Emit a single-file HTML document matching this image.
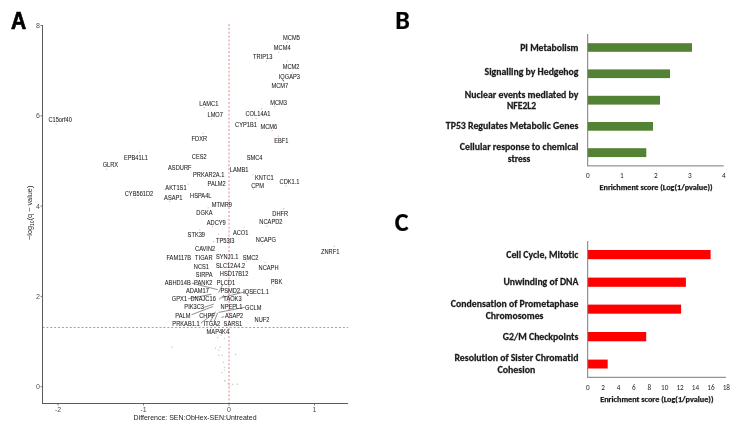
<!DOCTYPE html>
<html><head><meta charset="utf-8"><title>Figure</title>
<style>
html,body{margin:0;padding:0;background:#fff;}
body{width:742px;height:429px;overflow:hidden;}
svg{display:block;filter:blur(0.3px);}
.l{font-family:"Liberation Sans",Arial,sans-serif;font-size:5.7px;fill:#1a1a1a;stroke:#1a1a1a;stroke-width:0.05px;}
.tk{font-family:"Liberation Sans",Arial,sans-serif;font-size:7px;fill:#4d4d4d;}
.cb{font-family:Carlito,"Liberation Sans",sans-serif;font-weight:bold;font-variant-ligatures:none;font-feature-settings:"liga" 0;fill:#1a1a1a;stroke:#1a1a1a;stroke-width:0.25px;}
.cr{font-family:Carlito,"Liberation Sans",sans-serif;fill:#262626;}
</style></head><body>
<svg width="742" height="429" viewBox="0 0 742 429">
<rect width="742" height="429" fill="#fff"/>
<text x="11.0" y="28.5" style="font-family:'Liberation Sans',Arial,sans-serif;font-weight:bold;font-size:23.2px;stroke:#000;stroke-width:0.7px" textLength="15.2" lengthAdjust="spacingAndGlyphs">A</text>
<text x="395.3" y="28.6" class="cb" style="font-size:26px;fill:#000;stroke:#000;stroke-width:0.2px" textLength="14.58" lengthAdjust="spacingAndGlyphs">B</text>
<text x="394.8" y="231.4" class="cb" style="font-size:26px;fill:#000;stroke:#000;stroke-width:0.2px" textLength="13.77" lengthAdjust="spacingAndGlyphs">C</text>
<g id="panelA">
<circle cx="172.1" cy="347" r="0.7" fill="#c8c8c8"/><circle cx="217.8" cy="337.7" r="0.7" fill="#c8c8c8"/><circle cx="221.2" cy="335.3" r="0.7" fill="#c8c8c8"/><circle cx="224.4" cy="338.4" r="0.7" fill="#c8c8c8"/><circle cx="215.4" cy="348.3" r="0.7" fill="#c8c8c8"/><circle cx="220.1" cy="347" r="0.7" fill="#c8c8c8"/><circle cx="218.8" cy="350.2" r="0.7" fill="#c8c8c8"/><circle cx="218.8" cy="355.2" r="0.7" fill="#c8c8c8"/><circle cx="222.1" cy="355.2" r="0.7" fill="#c8c8c8"/><circle cx="235.6" cy="354.5" r="0.7" fill="#c8c8c8"/><circle cx="223.4" cy="362.3" r="0.7" fill="#c8c8c8"/><circle cx="224.4" cy="367.5" r="0.7" fill="#c8c8c8"/><circle cx="224.4" cy="370.1" r="0.7" fill="#c8c8c8"/><circle cx="221.9" cy="372.6" r="0.7" fill="#c8c8c8"/><circle cx="224.4" cy="380.6" r="0.7" fill="#c8c8c8"/><circle cx="225.3" cy="381" r="0.7" fill="#c8c8c8"/><circle cx="230" cy="385.6" r="0.7" fill="#c8c8c8"/><circle cx="232.8" cy="384.3" r="0.7" fill="#c8c8c8"/><circle cx="237.4" cy="384.3" r="0.7" fill="#c8c8c8"/><circle cx="228.1" cy="383.8" r="0.7" fill="#c8c8c8"/>
<circle cx="287.4" cy="42.2" r="0.7" fill="#f2b8b8"/><circle cx="278.6" cy="52.1" r="0.7" fill="#f2b8b8"/><circle cx="266.5" cy="61" r="0.7" fill="#f2b8b8"/><circle cx="287.4" cy="61.1" r="0.7" fill="#f2b8b8"/><circle cx="292.5" cy="72.9" r="0.7" fill="#f2b8b8"/><circle cx="283.8" cy="81.2" r="0.7" fill="#f2b8b8"/><circle cx="274.9" cy="106.3" r="0.7" fill="#f2b8b8"/><circle cx="261.5" cy="108.8" r="0.7" fill="#f2b8b8"/><circle cx="256.1" cy="118.5" r="0.7" fill="#f2b8b8"/><circle cx="272.1" cy="130.5" r="0.7" fill="#f2b8b8"/><circle cx="278.3" cy="136.2" r="0.7" fill="#f2b8b8"/><circle cx="204.4" cy="107.5" r="0.7" fill="#f2b8b8"/><circle cx="211.5" cy="119" r="0.7" fill="#f2b8b8"/><circle cx="202.9" cy="133.2" r="0.7" fill="#f2b8b8"/><circle cx="139.4" cy="152.3" r="0.7" fill="#f2b8b8"/><circle cx="106.7" cy="169.5" r="0.7" fill="#f2b8b8"/><circle cx="188.5" cy="184.2" r="0.7" fill="#f2b8b8"/><circle cx="135.1" cy="198" r="0.7" fill="#f2b8b8"/><circle cx="169.7" cy="201.3" r="0.7" fill="#f2b8b8"/><circle cx="56.2" cy="124.2" r="0.7" fill="#f2b8b8"/><circle cx="212.5" cy="226.5" r="0.7" fill="#f2b8b8"/><circle cx="199.8" cy="229.7" r="0.7" fill="#f2b8b8"/><circle cx="218.5" cy="234.2" r="0.7" fill="#f2b8b8"/><circle cx="244.1" cy="227.6" r="0.7" fill="#f2b8b8"/><circle cx="213.6" cy="241.5" r="0.7" fill="#f2b8b8"/><circle cx="208.2" cy="207.7" r="0.7" fill="#f2b8b8"/><circle cx="285.7" cy="185.8" r="0.7" fill="#f2b8b8"/><circle cx="283.7" cy="208.7" r="0.7" fill="#f2b8b8"/><circle cx="266.9" cy="226.3" r="0.7" fill="#f2b8b8"/><circle cx="253" cy="174.9" r="0.7" fill="#f2b8b8"/><circle cx="253.4" cy="189.2" r="0.7" fill="#f2b8b8"/><circle cx="262.5" cy="243.9" r="0.7" fill="#f2b8b8"/><circle cx="334.3" cy="246.3" r="0.7" fill="#f2b8b8"/><circle cx="265" cy="262.6" r="0.7" fill="#f2b8b8"/><circle cx="273.4" cy="285.5" r="0.7" fill="#f2b8b8"/><circle cx="246.5" cy="261.8" r="0.7" fill="#f2b8b8"/>
<line x1="229" y1="23.9" x2="229" y2="403.5" stroke="#e08888" stroke-width="1" stroke-dasharray="2 1.9"/>
<line x1="42.5" y1="327.5" x2="348.1" y2="327.5" stroke="#e08888" stroke-width="1" stroke-dasharray="2 1.9"/>
<line x1="191.9" y1="283.2" x2="217.8" y2="289.7" stroke="#333" stroke-width="0.55"/><line x1="222.6" y1="284.9" x2="218.5" y2="292.7" stroke="#333" stroke-width="0.55"/><line x1="188.0" y1="298.8" x2="211.7" y2="294.2" stroke="#333" stroke-width="0.55"/><line x1="204.1" y1="307.3" x2="213.9" y2="304" stroke="#333" stroke-width="0.55"/><line x1="191.5" y1="314.7" x2="213" y2="306.5" stroke="#333" stroke-width="0.55"/><line x1="200.9" y1="323.1" x2="215.8" y2="311.9" stroke="#333" stroke-width="0.55"/><line x1="210.2" y1="321.7" x2="214.9" y2="313.3" stroke="#333" stroke-width="0.55"/><line x1="213.9" y1="322.2" x2="217.6" y2="312.9" stroke="#333" stroke-width="0.55"/><line x1="218.6" y1="312.4" x2="244.7" y2="307.3" stroke="#333" stroke-width="0.55"/><line x1="221.4" y1="317.5" x2="224.2" y2="316.6" stroke="#333" stroke-width="0.55"/><line x1="219" y1="299.3" x2="224.2" y2="295.1" stroke="#333" stroke-width="0.55"/><line x1="222.3" y1="297.5" x2="244.7" y2="291.9" stroke="#333" stroke-width="0.55"/>
<text class="l" transform="translate(283.05,40.0) scale(1,1.13)">MCM5</text>
<text class="l" transform="translate(273.85,50.4) scale(1,1.13)">MCM4</text>
<text class="l" transform="translate(253.11,59.1) scale(1,1.13)">TRIP13</text>
<text class="l" transform="translate(282.75,68.6) scale(1,1.13)">MCM2</text>
<text class="l" transform="translate(278.72,79.2) scale(1,1.13)">IQGAP3</text>
<text class="l" transform="translate(271.50,88.0) scale(1,1.13)">MCM7</text>
<text class="l" transform="translate(270.20,104.6) scale(1,1.13)">MCM3</text>
<text class="l" transform="translate(199.30,105.9) scale(1,1.13)">LAMC1</text>
<text class="l" transform="translate(207.46,117.3) scale(1,1.13)">LMO7</text>
<text class="l" transform="translate(245.51,116.2) scale(1,1.13)">COL14A1</text>
<text class="l" transform="translate(235.08,126.6) scale(1,1.13)">CYP1B1</text>
<text class="l" transform="translate(260.50,128.6) scale(1,1.13)">MCM6</text>
<text class="l" transform="translate(48.42,122.1) scale(1,1.13)">C15orf40</text>
<text class="l" transform="translate(191.56,141.0) scale(1,1.13)">FDXR</text>
<text class="l" transform="translate(274.13,143.0) scale(1,1.13)">EBF1</text>
<text class="l" transform="translate(191.79,159.0) scale(1,1.13)">CES2</text>
<text class="l" transform="translate(246.67,159.9) scale(1,1.13)">SMC4</text>
<text class="l" transform="translate(123.94,160.1) scale(1,1.13)">EPB41L1</text>
<text class="l" transform="translate(102.66,167.4) scale(1,1.13)">GLRX</text>
<text class="l" transform="translate(168.06,169.6) scale(1,1.13)">ASDURF</text>
<text class="l" transform="translate(229.75,172.3) scale(1,1.13)">LAMB1</text>
<text class="l" transform="translate(193.03,177.4) scale(1,1.13)">PRKAR2A.1</text>
<text class="l" transform="translate(255.00,179.8) scale(1,1.13)">KNTC1</text>
<text class="l" transform="translate(279.57,184.3) scale(1,1.13)">CDK1.1</text>
<text class="l" transform="translate(207.53,186.2) scale(1,1.13)">PALM2</text>
<text class="l" transform="translate(251.23,187.5) scale(1,1.13)">CPM</text>
<text class="l" transform="translate(165.35,190.1) scale(1,1.13)">AKT1S1</text>
<text class="l" transform="translate(124.75,196.2) scale(1,1.13)">CYB561D2</text>
<text class="l" transform="translate(190.07,198.1) scale(1,1.13)">HSPA4L</text>
<text class="l" transform="translate(164.12,199.7) scale(1,1.13)">ASAP1</text>
<text class="l" transform="translate(211.74,207.2) scale(1,1.13)">MTMR9</text>
<text class="l" transform="translate(196.34,214.9) scale(1,1.13)">DGKA</text>
<text class="l" transform="translate(272.37,216.3) scale(1,1.13)">DHFR</text>
<text class="l" transform="translate(259.36,224.4) scale(1,1.13)">NCAPD2</text>
<text class="l" transform="translate(206.79,225.3) scale(1,1.13)">ADCY9</text>
<text class="l" transform="translate(232.95,235.4) scale(1,1.13)">ACO1</text>
<text class="l" transform="translate(187.61,237.2) scale(1,1.13)">STK39</text>
<text class="l" transform="translate(215.93,242.7) scale(1,1.13)">TP53I3</text>
<text class="l" transform="translate(255.78,242.0) scale(1,1.13)">NCAPG</text>
<text class="l" transform="translate(195.03,251.1) scale(1,1.13)">CAVIN2</text>
<text class="l" transform="translate(321.03,254.2) scale(1,1.13)">ZNRF1</text>
<text class="l" transform="translate(166.45,259.5) scale(1,1.13)">FAM117B</text>
<text class="l" transform="translate(195.10,259.5) scale(1,1.13)">TIGAR</text>
<text class="l" transform="translate(215.94,259.1) scale(1,1.13)">SYNJ1.1</text>
<text class="l" transform="translate(242.67,259.9) scale(1,1.13)">SMC2</text>
<text class="l" transform="translate(193.81,268.5) scale(1,1.13)">NCS1</text>
<text class="l" transform="translate(216.02,267.6) scale(1,1.13)">SLC12A4.2</text>
<text class="l" transform="translate(258.57,269.7) scale(1,1.13)">NCAPH</text>
<text class="l" transform="translate(195.80,276.9) scale(1,1.13)">SIRPA</text>
<text class="l" transform="translate(219.85,275.6) scale(1,1.13)">HSD17B12</text>
<text class="l" transform="translate(164.78,285.1) scale(1,1.13)">ABHD14B</text>
<text class="l" transform="translate(194.09,285.4) scale(1,1.13)">PANK2</text>
<text class="l" transform="translate(216.74,284.6) scale(1,1.13)">PLCD1</text>
<text class="l" transform="translate(270.81,284.0) scale(1,1.13)">PBK</text>
<text class="l" transform="translate(186.04,293.2) scale(1,1.13)">ADAM17</text>
<text class="l" transform="translate(220.42,293.4) scale(1,1.13)">PSMD2</text>
<text class="l" transform="translate(243.23,293.6) scale(1,1.13)">IQSEC1.1</text>
<text class="l" transform="translate(171.85,301.4) scale(1,1.13)">GPX1</text>
<text class="l" transform="translate(190.47,301.4) scale(1,1.13)">DNAJC16</text>
<text class="l" transform="translate(223.33,301.2) scale(1,1.13)">TAOK3</text>
<text class="l" transform="translate(184.37,309.3) scale(1,1.13)">PIK3C3</text>
<text class="l" transform="translate(220.53,309.3) scale(1,1.13)">NPEPL1</text>
<text class="l" transform="translate(245.08,309.7) scale(1,1.13)">GCLM</text>
<text class="l" transform="translate(175.30,317.5) scale(1,1.13)">PALM</text>
<text class="l" transform="translate(199.22,317.5) scale(1,1.13)">CHPF</text>
<text class="l" transform="translate(224.92,318.2) scale(1,1.13)">ASAP2</text>
<text class="l" transform="translate(254.60,321.8) scale(1,1.13)">NUF2</text>
<text class="l" transform="translate(172.37,326.0) scale(1,1.13)">PRKAB1.1</text>
<text class="l" transform="translate(203.64,325.8) scale(1,1.13)">ITGA2</text>
<text class="l" transform="translate(223.59,326.0) scale(1,1.13)">SARS1</text>
<text class="l" transform="translate(206.60,334.2) scale(1,1.13)">MAP4K4</text>
<line x1="42.5" y1="25.0" x2="42.5" y2="404.0" stroke="#5a5a5a" stroke-width="1"/>
<line x1="42.5" y1="403.5" x2="348.1" y2="403.5" stroke="#5a5a5a" stroke-width="1"/>
<line x1="40.5" y1="386.7" x2="42.5" y2="386.7" stroke="#5a5a5a" stroke-width="0.8"/><text class="tk" x="40.0" y="389.2" text-anchor="end">0</text>
<line x1="40.5" y1="296.4" x2="42.5" y2="296.4" stroke="#5a5a5a" stroke-width="0.8"/><text class="tk" x="40.0" y="298.9" text-anchor="end">2</text>
<line x1="40.5" y1="206.1" x2="42.5" y2="206.1" stroke="#5a5a5a" stroke-width="0.8"/><text class="tk" x="40.0" y="208.6" text-anchor="end">4</text>
<line x1="40.5" y1="115.8" x2="42.5" y2="115.8" stroke="#5a5a5a" stroke-width="0.8"/><text class="tk" x="40.0" y="118.3" text-anchor="end">6</text>
<line x1="40.5" y1="25.5" x2="42.5" y2="25.5" stroke="#5a5a5a" stroke-width="0.8"/><text class="tk" x="40.0" y="28.0" text-anchor="end">8</text>
<line x1="58.0" y1="403.5" x2="58.0" y2="405.5" stroke="#5a5a5a" stroke-width="0.8"/><text class="tk" x="58.0" y="411.6" text-anchor="middle">-2</text>
<line x1="143.5" y1="403.5" x2="143.5" y2="405.5" stroke="#5a5a5a" stroke-width="0.8"/><text class="tk" x="143.5" y="411.6" text-anchor="middle">-1</text>
<line x1="229.0" y1="403.5" x2="229.0" y2="405.5" stroke="#5a5a5a" stroke-width="0.8"/><text class="tk" x="229.0" y="411.6" text-anchor="middle">0</text>
<line x1="314.5" y1="403.5" x2="314.5" y2="405.5" stroke="#5a5a5a" stroke-width="0.8"/><text class="tk" x="314.5" y="411.6" text-anchor="middle">1</text>
<text transform="translate(133.6,420) scale(1,1.1)" style="font-family:'Liberation Sans',Arial,sans-serif;font-size:7px;fill:#1a1a1a">Difference: SEN:ObHex-SEN:Untreated</text>
<text transform="translate(32.3,212.8) rotate(-90)" text-anchor="middle" style="font-family:'Liberation Sans',Arial,sans-serif;font-size:7.3px;fill:#1a1a1a">&#8722;log<tspan font-size="5px" dy="1.6">10</tspan><tspan dy="-1.6">(q &#8722; value)</tspan></text>
</g>
<g id="panelB">
<rect x="587.7" y="43.2" width="104.3" height="8.6" fill="#548235"/>
<rect x="587.7" y="69.4" width="82.3" height="8.7" fill="#548235"/>
<rect x="587.7" y="95.8" width="72.3" height="8.8" fill="#548235"/>
<rect x="587.7" y="122.0" width="65.3" height="8.7" fill="#548235"/>
<rect x="587.7" y="148.2" width="58.6" height="8.9" fill="#548235"/>
<line x1="587.7" y1="34.0" x2="587.7" y2="165.9" stroke="#7a7a7a" stroke-width="1"/>
<line x1="587.2" y1="165.9" x2="723.7" y2="165.9" stroke="#7a7a7a" stroke-width="1"/>
<text class="cr" transform="translate(587.7,177.6) scale(1,1.08)" text-anchor="middle" style="font-size:7.2px">0</text>
<text class="cr" transform="translate(621.7,177.6) scale(1,1.08)" text-anchor="middle" style="font-size:7.2px">1</text>
<text class="cr" transform="translate(655.7,177.6) scale(1,1.08)" text-anchor="middle" style="font-size:7.2px">2</text>
<text class="cr" transform="translate(689.7,177.6) scale(1,1.08)" text-anchor="middle" style="font-size:7.2px">3</text>
<text class="cr" transform="translate(723.7,177.6) scale(1,1.08)" text-anchor="middle" style="font-size:7.2px">4</text>
<text class="cb" x="599.5" y="190.0" style="font-size:8.2px" textLength="113.0" lengthAdjust="spacingAndGlyphs">Enrichment score (Log(1/pvalue))</text>
</g>
<g id="panelC">
<rect x="587.7" y="250.0" width="122.9" height="9.2" fill="#ff0000"/>
<rect x="587.7" y="277.6" width="98.2" height="9.2" fill="#ff0000"/>
<rect x="587.7" y="304.6" width="93.4" height="9.1" fill="#ff0000"/>
<rect x="587.7" y="332.0" width="58.5" height="9.3" fill="#ff0000"/>
<rect x="587.7" y="359.6" width="20.0" height="8.9" fill="#ff0000"/>
<line x1="587.7" y1="241.0" x2="587.7" y2="377.3" stroke="#7a7a7a" stroke-width="1"/>
<line x1="587.2" y1="377.3" x2="725.9" y2="377.3" stroke="#7a7a7a" stroke-width="1"/>
<text class="cr" transform="translate(587.7,389.5) scale(1,1.08)" text-anchor="middle" style="font-size:7.2px">0</text>
<text class="cr" transform="translate(603.1,389.5) scale(1,1.08)" text-anchor="middle" style="font-size:7.2px">2</text>
<text class="cr" transform="translate(618.5,389.5) scale(1,1.08)" text-anchor="middle" style="font-size:7.2px">4</text>
<text class="cr" transform="translate(633.9,389.5) scale(1,1.08)" text-anchor="middle" style="font-size:7.2px">6</text>
<text class="cr" transform="translate(649.3,389.5) scale(1,1.08)" text-anchor="middle" style="font-size:7.2px">8</text>
<text class="cr" transform="translate(664.7,389.5) scale(1,1.08)" text-anchor="middle" style="font-size:7.2px">10</text>
<text class="cr" transform="translate(680.1,389.5) scale(1,1.08)" text-anchor="middle" style="font-size:7.2px">12</text>
<text class="cr" transform="translate(695.5,389.5) scale(1,1.08)" text-anchor="middle" style="font-size:7.2px">14</text>
<text class="cr" transform="translate(710.9,389.5) scale(1,1.08)" text-anchor="middle" style="font-size:7.2px">16</text>
<text class="cr" transform="translate(726.3,389.5) scale(1,1.08)" text-anchor="middle" style="font-size:7.2px">18</text>
<text class="cb" x="600.2" y="402.4" style="font-size:8.2px" textLength="113.3" lengthAdjust="spacingAndGlyphs">Enrichment score (Log(1/pvalue))</text>
</g>
<text class="cb" transform="translate(549.3,50.5) scale(1,1.07)" text-anchor="middle" style="font-size:9.85px" textLength="58.2" lengthAdjust="spacingAndGlyphs">PI Metabolism</text>
<text class="cb" transform="translate(531.5,75.2) scale(1,1.07)" text-anchor="middle" style="font-size:9.85px" textLength="93.8" lengthAdjust="spacingAndGlyphs">Signalling by Hedgehog</text>
<text class="cb" transform="translate(521.6,97.5) scale(1,1.07)" text-anchor="middle" style="font-size:9.85px" textLength="113.6" lengthAdjust="spacingAndGlyphs">Nuclear events mediated by</text>
<text class="cb" transform="translate(521.6,109.2) scale(1,1.07)" text-anchor="middle" style="font-size:9.85px" textLength="29.2" lengthAdjust="spacingAndGlyphs">NFE2L2</text>
<text class="cb" transform="translate(512.1,129.4) scale(1,1.07)" text-anchor="middle" style="font-size:9.85px" textLength="132.6" lengthAdjust="spacingAndGlyphs">TP53 Regulates Metabolic Genes</text>
<text class="cb" transform="translate(519.1,150.2) scale(1,1.07)" text-anchor="middle" style="font-size:9.85px" textLength="118.6" lengthAdjust="spacingAndGlyphs">Cellular response to chemical</text>
<text class="cb" transform="translate(519.1,161.9) scale(1,1.07)" text-anchor="middle" style="font-size:9.85px" textLength="22.6" lengthAdjust="spacingAndGlyphs">stress</text>
<text class="cb" transform="translate(542.3,258.0) scale(1,1.07)" text-anchor="middle" style="font-size:9.85px" textLength="72.2" lengthAdjust="spacingAndGlyphs">Cell Cycle, Mitotic</text>
<text class="cb" transform="translate(540.9,285.2) scale(1,1.07)" text-anchor="middle" style="font-size:9.85px" textLength="75.0" lengthAdjust="spacingAndGlyphs">Unwinding of DNA</text>
<text class="cb" transform="translate(514.6,307.1) scale(1,1.07)" text-anchor="middle" style="font-size:9.85px" textLength="127.6" lengthAdjust="spacingAndGlyphs">Condensation of Prometaphase</text>
<text class="cb" transform="translate(514.6,319.1) scale(1,1.07)" text-anchor="middle" style="font-size:9.85px" textLength="57.8" lengthAdjust="spacingAndGlyphs">Chromosomes</text>
<text class="cb" transform="translate(540.6,339.7) scale(1,1.07)" text-anchor="middle" style="font-size:9.85px" textLength="75.5" lengthAdjust="spacingAndGlyphs">G2/M Checkpoints</text>
<text class="cb" transform="translate(516.4,360.7) scale(1,1.07)" text-anchor="middle" style="font-size:9.85px" textLength="124.0" lengthAdjust="spacingAndGlyphs">Resolution of Sister Chromatid</text>
<text class="cb" transform="translate(516.4,373.0) scale(1,1.07)" text-anchor="middle" style="font-size:9.85px" textLength="37.8" lengthAdjust="spacingAndGlyphs">Cohesion</text>
</svg>
</body></html>
